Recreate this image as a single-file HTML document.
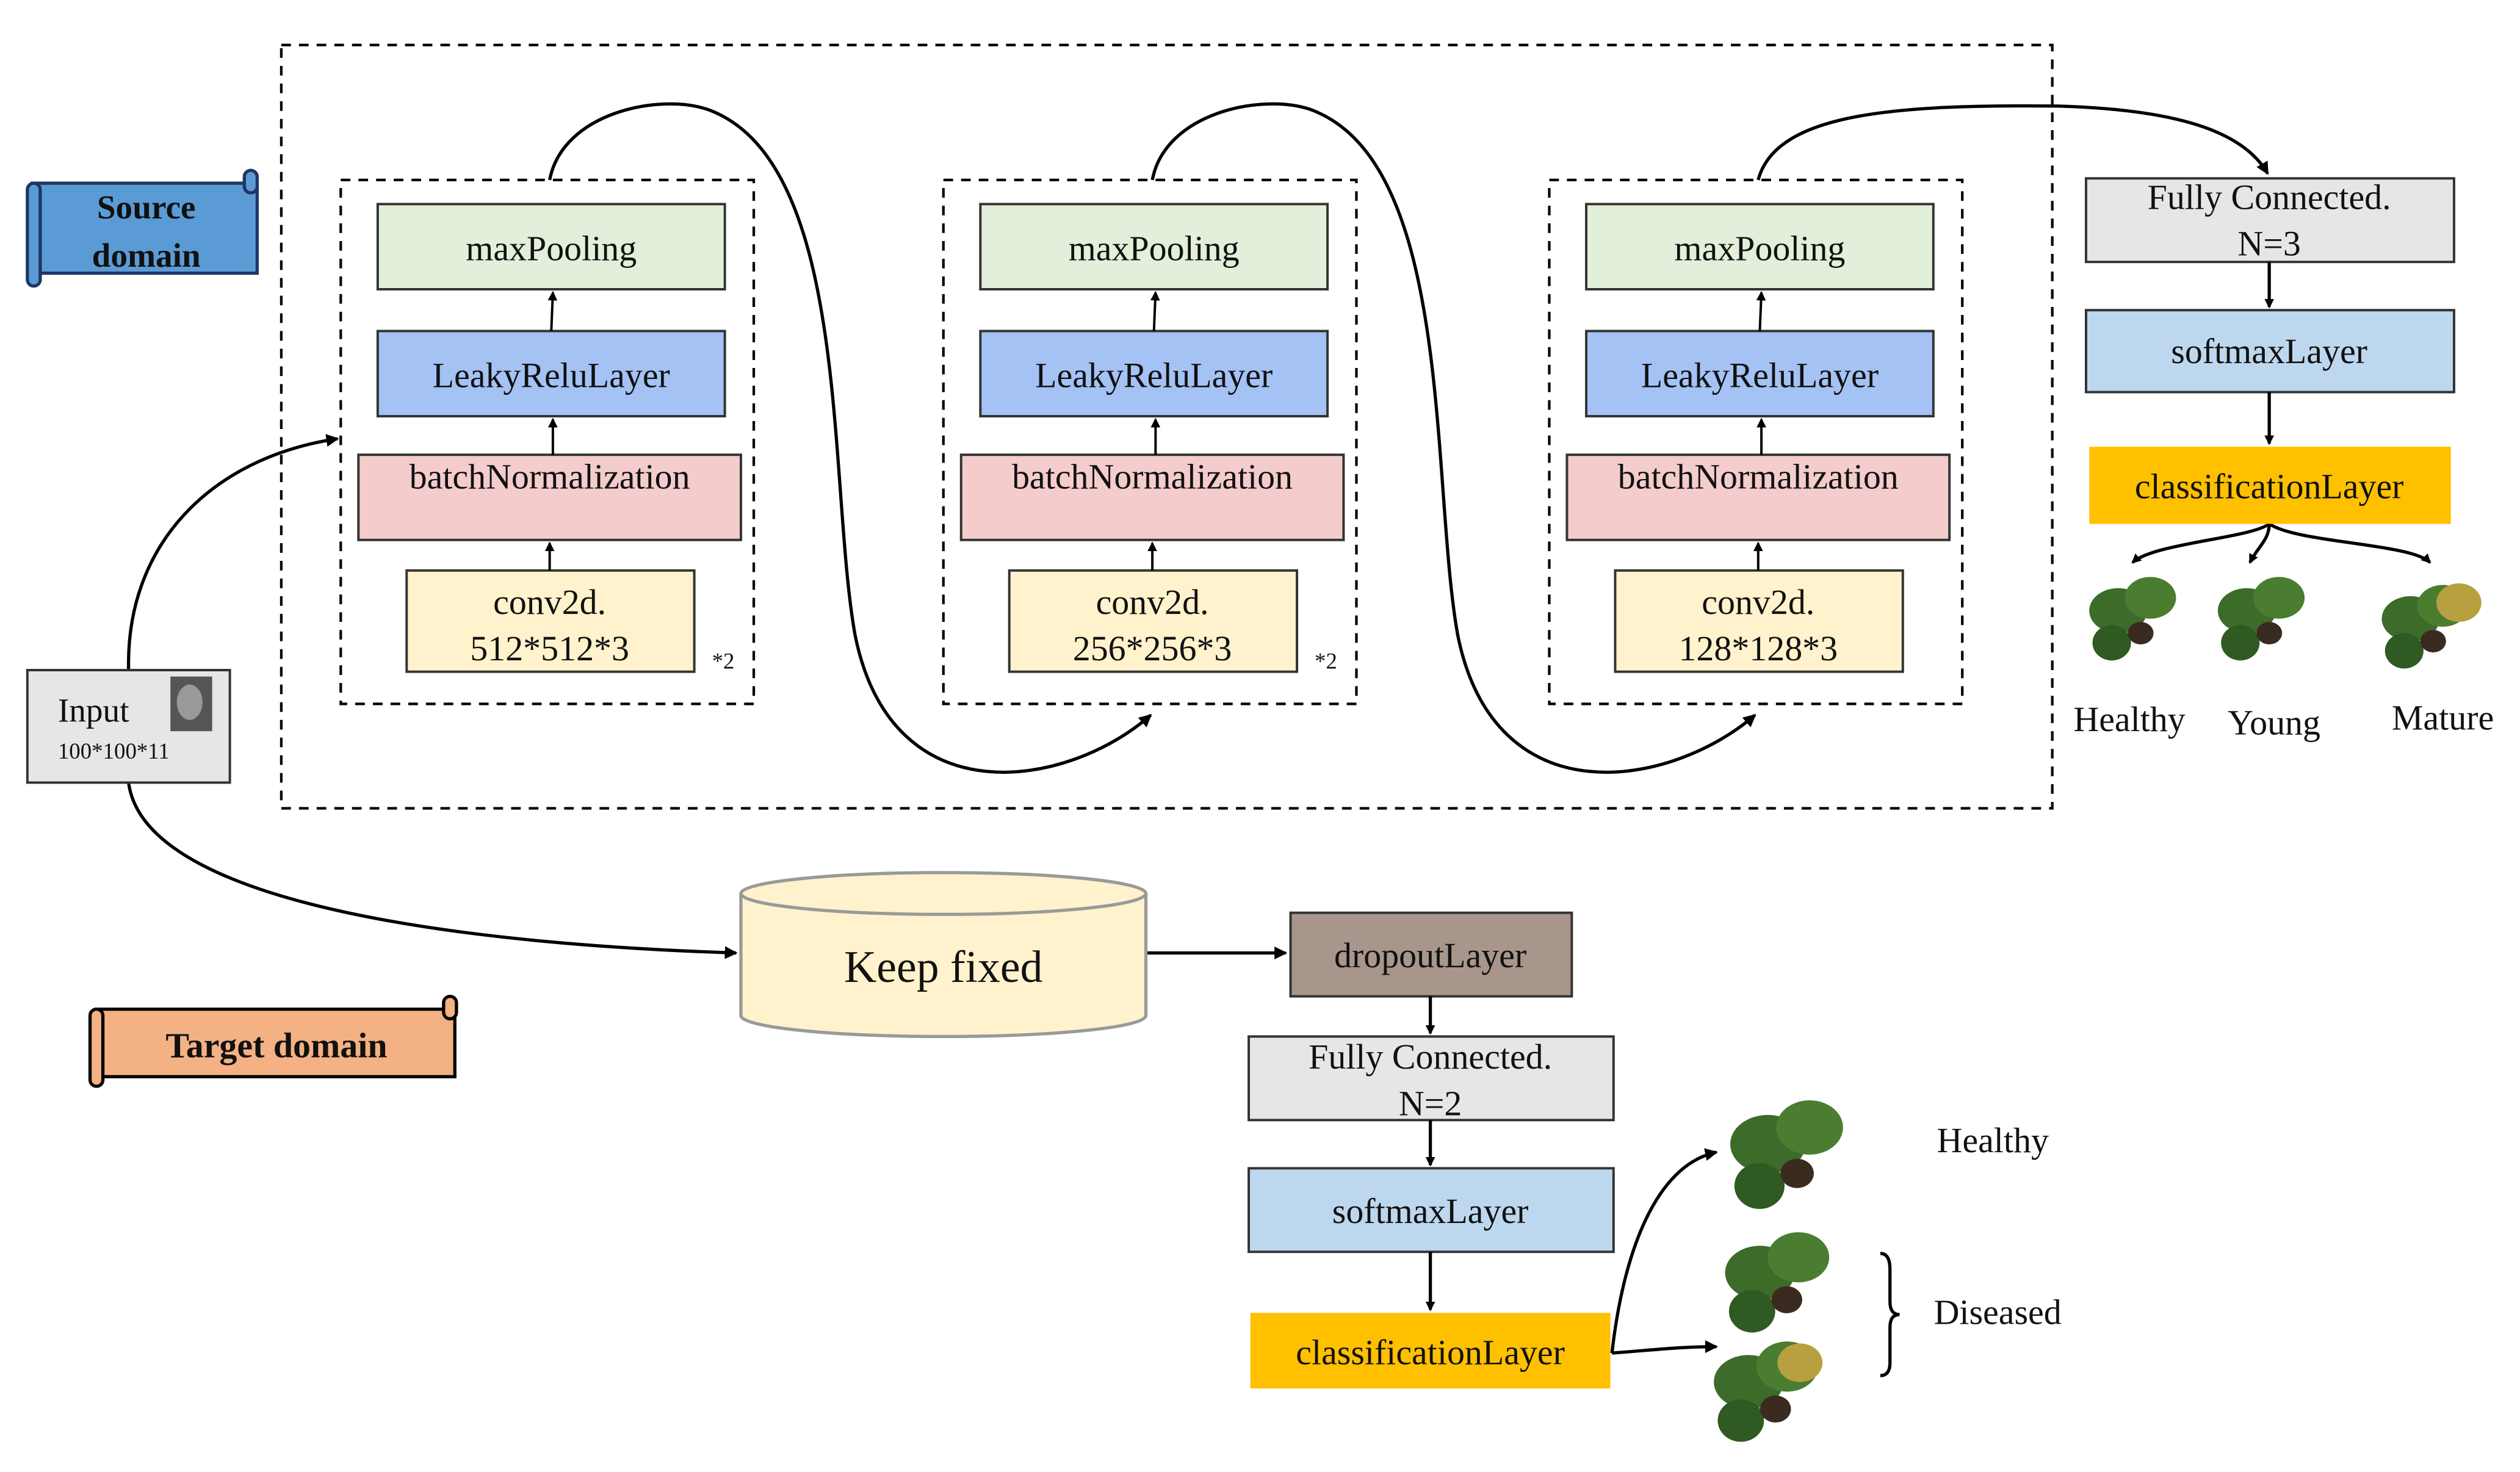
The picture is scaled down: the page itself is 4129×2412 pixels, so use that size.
<!DOCTYPE html>
<html><head><meta charset="utf-8"><style>
html,body{margin:0;padding:0;background:#fff;}
svg{display:block;font-family:"Liberation Serif","Times New Roman",serif;}
svg text{font-family:"Liberation Serif","Times New Roman",serif;fill:#111;}
</style></head><body>
<svg width="4129" height="2412" viewBox="0 0 1568 916" xmlns="http://www.w3.org/2000/svg" font-family="Liberation Serif, serif">
<defs>
<marker id="ah" markerWidth="8" markerHeight="8" refX="7" refY="4" orient="auto" markerUnits="userSpaceOnUse">
<path d="M0,0 L8,4 L0,8 z" fill="#000"/></marker>
<marker id="as" markerWidth="6" markerHeight="6" refX="5" refY="3" orient="auto" markerUnits="userSpaceOnUse">
<path d="M0,0 L6,3 L0,6 z" fill="#000"/></marker>
<g id="plant">
<ellipse cx="0" cy="0" rx="18" ry="14" fill="#3d6b2a"/>
<ellipse cx="20" cy="-8" rx="16" ry="13" fill="#4a7d30"/>
<ellipse cx="-4" cy="20" rx="12" ry="11" fill="#2f5a22"/>
<ellipse cx="14" cy="14" rx="8" ry="7" fill="#3a2b20"/>
</g>
</defs>
<rect x="175" y="28" width="1102" height="475" fill="none" stroke="#000" stroke-width="1.6" stroke-dasharray="6,5"/>

<rect x="20" y="114" width="140" height="56" fill="#5b9bd5" stroke="#1f3763" stroke-width="2"/>
<rect x="17" y="114" width="8" height="64" rx="4" fill="#5b9bd5" stroke="#1f3763" stroke-width="2"/>
<rect x="152" y="106" width="8" height="14" rx="4" fill="#5b9bd5" stroke="#1f3763" stroke-width="2"/>
<text x="91" y="136" font-size="21" font-weight="bold" text-anchor="middle">Source</text>
<text x="91" y="166" font-size="21" font-weight="bold" text-anchor="middle">domain</text>

<rect x="60" y="628" width="223" height="42" fill="#f4b183" stroke="#000" stroke-width="2"/>
<rect x="56" y="628" width="8" height="48" rx="4" fill="#f4b183" stroke="#000" stroke-width="2"/>
<rect x="276" y="620" width="8" height="14" rx="4" fill="#f4b183" stroke="#000" stroke-width="2"/>
<text x="172" y="658" font-size="22" font-weight="bold" text-anchor="middle">Target domain</text>

<g id="blk">
<rect x="212" y="112" width="257" height="326" fill="none" stroke="#000" stroke-width="1.6" stroke-dasharray="6,5"/>
<rect x="235" y="127" width="216" height="53" fill="#e2efda" stroke="#333" stroke-width="1.5"/>
<text x="343" y="162" font-size="22" text-anchor="middle">maxPooling</text>
<rect x="235" y="206" width="216" height="53" fill="#a4c2f4" stroke="#333" stroke-width="1.5"/>
<text x="343" y="241" font-size="22" text-anchor="middle">LeakyReluLayer</text>
<rect x="223" y="283" width="238" height="53" fill="#f4cccc" stroke="#333" stroke-width="1.5"/>
<text x="342" y="304" font-size="22" text-anchor="middle">batchNormalization</text>
<rect x="253" y="355" width="179" height="63" fill="#fff2cc" stroke="#333" stroke-width="1.5"/>
<line x1="343" y1="206" x2="344" y2="182" stroke="#000" stroke-width="1.5" marker-end="url(#as)"/>
<line x1="344" y1="283" x2="344" y2="261" stroke="#000" stroke-width="1.5" marker-end="url(#as)"/>
<line x1="342" y1="355" x2="342" y2="338" stroke="#000" stroke-width="1.5" marker-end="url(#as)"/>
</g>
<text x="342" y="382" font-size="22" text-anchor="middle">conv2d.</text>
<text x="342" y="411" font-size="22" text-anchor="middle">512*512*3</text>
<text x="443" y="416" font-size="14">*2</text>
<use href="#blk" transform="translate(375,0)"/>
<text x="717" y="382" font-size="22" text-anchor="middle">conv2d.</text>
<text x="717" y="411" font-size="22" text-anchor="middle">256*256*3</text>
<text x="818" y="416" font-size="14">*2</text>
<use href="#blk" transform="translate(752,0)"/>
<text x="1094" y="382" font-size="22" text-anchor="middle">conv2d.</text>
<text x="1094" y="411" font-size="22" text-anchor="middle">128*128*3</text>

<g fill="none" stroke="#000" stroke-width="2">
<path d="M342,112 C350,70 410,58 440,68 C530,100 515,300 532,395 C555,510 665,490 716,445" marker-end="url(#ah)"/>
<path d="M717,112 C725,70 785,58 815,68 C905,100 890,300 907,395 C930,510 1040,490 1092,445" marker-end="url(#ah)"/>
<path d="M1094,112 C1105,70 1180,65 1280,66 C1350,68 1395,80 1411,108" marker-end="url(#ah)"/>
<path d="M80,417 C78,340 130,285 210,273" marker-end="url(#ah)"/>
<path d="M80,487 C90,565 300,588 458,593" marker-end="url(#ah)"/>
<path d="M713,593 L800,593" marker-end="url(#ah)"/>
<path d="M1003,842 C1010,780 1030,725 1068,717" marker-end="url(#ah)"/>
<path d="M1003,842 C1030,840 1045,838 1068,838" marker-end="url(#ah)"/>
<path d="M1412,326 C1400,335 1340,338 1327,350" marker-end="url(#as)"/>
<path d="M1412,326 C1412,336 1405,340 1400,350" marker-end="url(#as)"/>
<path d="M1412,326 C1430,338 1500,338 1512,350" marker-end="url(#as)"/>
<path d="M1170,780 Q1176,780 1176,790 L1176,810 Q1176,818 1182,818 Q1176,818 1176,826 L1176,848 Q1176,856 1170,856"/>
</g>

<rect x="17" y="417" width="126" height="70" fill="#e7e6e6" stroke="#333" stroke-width="1.5"/>
<text x="36" y="449" font-size="21">Input</text>
<text x="36" y="472" font-size="14">100*100*11</text>
<rect x="106" y="421" width="26" height="34" fill="#555"/>
<ellipse cx="118" cy="437" rx="8" ry="11" fill="#999"/>

<rect x="1298" y="111" width="229" height="52" fill="#e7e6e6" stroke="#333" stroke-width="1.5"/>
<text x="1412" y="130" font-size="22" text-anchor="middle">Fully Connected.</text>
<text x="1412" y="159" font-size="22" text-anchor="middle">N=3</text>
<rect x="1298" y="193" width="229" height="51" fill="#bdd7ee" stroke="#333" stroke-width="1.5"/>
<text x="1412" y="226" font-size="22" text-anchor="middle">softmaxLayer</text>
<rect x="1300" y="278" width="225" height="48" fill="#ffc000"/>
<text x="1412" y="310" font-size="22" text-anchor="middle">classificationLayer</text>
<line x1="1412" y1="163" x2="1412" y2="191" stroke="#000" stroke-width="2" marker-end="url(#as)"/>
<line x1="1412" y1="244" x2="1412" y2="276" stroke="#000" stroke-width="2" marker-end="url(#as)"/>
<use href="#plant" transform="translate(1318,380)"/>
<use href="#plant" transform="translate(1398,380)"/>
<use href="#plant" transform="translate(1500,385)"/>
<ellipse cx="1530" cy="375" rx="14" ry="12" fill="#b8a040"/>
<text x="1325" y="455" font-size="22" text-anchor="middle">Healthy</text>
<text x="1415" y="457" font-size="22" text-anchor="middle">Young</text>
<text x="1520" y="454" font-size="22" text-anchor="middle">Mature</text>

<path d="M461,556 L461,632 A126,13 0 0 0 713,632 L713,556" fill="#fff2cc" stroke="#999" stroke-width="2"/>
<ellipse cx="587" cy="556" rx="126" ry="13" fill="#fff2cc" stroke="#999" stroke-width="2"/>
<text x="587" y="611" font-size="28" text-anchor="middle">Keep fixed</text>

<rect x="803" y="568" width="175" height="52" fill="#a8968c" stroke="#333" stroke-width="1.5"/>
<text x="890" y="602" font-size="22" text-anchor="middle">dropoutLayer</text>
<rect x="777" y="645" width="227" height="52" fill="#e7e6e6" stroke="#333" stroke-width="1.5"/>
<text x="890" y="665" font-size="22" text-anchor="middle">Fully Connected.</text>
<text x="890" y="694" font-size="22" text-anchor="middle">N=2</text>
<rect x="777" y="727" width="227" height="52" fill="#bdd7ee" stroke="#333" stroke-width="1.5"/>
<text x="890" y="761" font-size="22" text-anchor="middle">softmaxLayer</text>
<rect x="778" y="817" width="224" height="47" fill="#ffc000"/>
<text x="890" y="849" font-size="22" text-anchor="middle">classificationLayer</text>
<line x1="890" y1="620" x2="890" y2="643" stroke="#000" stroke-width="2" marker-end="url(#as)"/>
<line x1="890" y1="697" x2="890" y2="725" stroke="#000" stroke-width="2" marker-end="url(#as)"/>
<line x1="890" y1="779" x2="890" y2="815" stroke="#000" stroke-width="2" marker-end="url(#as)"/>
<use href="#plant" transform="translate(1100,712) scale(1.3)"/>
<use href="#plant" transform="translate(1095,792) scale(1.2)"/>
<use href="#plant" transform="translate(1088,860) scale(1.2)"/>
<ellipse cx="1120" cy="848" rx="14" ry="12" fill="#b8a040"/>
<text x="1240" y="717" font-size="22" text-anchor="middle">Healthy</text>
<text x="1243" y="824" font-size="22" text-anchor="middle">Diseased</text>
</svg>
</body></html>
